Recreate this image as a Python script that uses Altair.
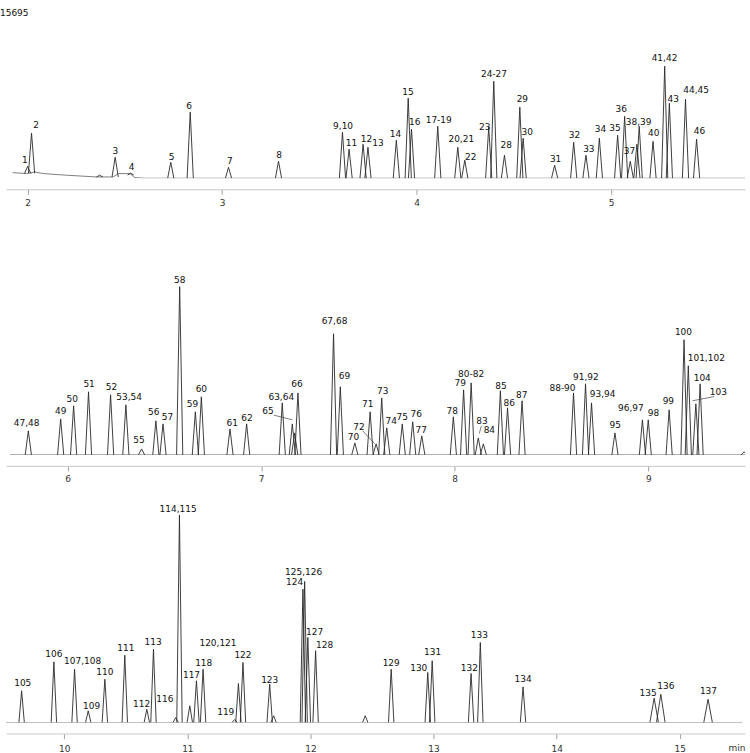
import altair as alt
import pandas as pd

FONT = "DejaVu Sans"
FULL_SCALE = 15695

# ---------------- Panel 1 (about 1.9 - 5.7 min) ----------------
p1_rt = [2.000, 2.020, 2.370, 2.450, 2.530, 2.736, 2.836, 3.033, 3.290, 3.619,
         3.653, 3.725, 3.750, 3.896, 3.957, 3.974, 4.109, 4.212, 4.248, 4.371,
         4.397, 4.452, 4.531, 4.548, 4.710, 4.808, 4.871, 4.940, 5.034, 5.070,
         5.099, 5.133, 5.145, 5.216, 5.276, 5.300, 5.383, 5.440]
p1_h = [1100, 4140, 280, 1930, 460, 1470, 6070, 1010, 1560, 4230,
        2670, 3130, 2850, 3500, 7360, 4510, 4780, 2850, 1660, 4690,
        8920, 2120, 6530, 3680, 1200, 3310, 2120, 3680, 3960, 5700,
        1560, 3130, 4780, 3400, 10300, 6900, 7270, 3590]
p1_base = [430, 460, 120, 120, 300] + [0] * 33
p1_drift_t = [1.923, 1.995, 2.037, 2.080, 2.200, 2.355, 2.440, 2.466, 2.526, 2.551, 2.600, 5.695]
p1_drift_v = [520, 430, 580, 430, 280, 120, 120, 430, 430, 60, 0, 0]
p1_lab = ["1", "2", "3", "4", "5", "6", "7", "8", "9,10", "11", "12", "13", "14", "15",
          "16", "17-19", "20,21", "22", "23", "24-27", "28", "29", "30", "31", "32",
          "33", "34", "35", "36", "37", "38,39", "40", "41,42", "43", "44,45", "46"]
p1_lab_t = [1.986, 2.043, 2.451, 2.534, 2.740, 2.830, 3.040, 3.293, 3.622, 3.665,
            3.742, 3.802, 3.891, 3.956, 3.990, 4.114, 4.230, 4.278, 4.350, 4.398,
            4.461, 4.544, 4.569, 4.715, 4.812, 4.886, 4.946, 5.020, 5.052, 5.095,
            5.142, 5.220, 5.275, 5.320, 5.438, 5.455]
p1_lab_v = [1660, 4880, 2460, 1040, 1960, 6650, 1590, 2180, 4810, 3280,
            3590, 3220, 4050, 7940, 5180, 5360, 3590, 1960, 4720, 9570,
            3040, 7270, 4260, 1810, 3960, 2730, 4510, 4660, 6410, 2510,
            5180, 4200, 11010, 7330, 8100, 4350]

# ---------------- Panel 2 (about 5.7 - 9.5 min) ----------------
p2_rt = [5.797, 5.964, 6.031, 6.108, 6.222, 6.301, 6.382, 6.456, 6.493, 6.579,
         6.660, 6.691, 6.839, 6.925, 7.109, 7.161, 7.173, 7.190, 7.374, 7.409,
         7.484, 7.563, 7.594, 7.623, 7.649, 7.729, 7.783, 7.830, 7.993, 8.046,
         8.085, 8.122, 8.148, 8.236, 8.273, 8.348, 8.614, 8.676, 8.707, 8.828,
         8.970, 9.000, 9.108, 9.185, 9.207, 9.246, 9.268, 9.495]
p2_h = [2210, 3310, 4510, 5800, 5520, 4600, 550, 3130, 2850, 15460,
        3960, 5340, 2390, 2850, 4780, 2850, 2020, 5700, 11130, 6260,
        1100, 3960, 1010, 5240, 2480, 2850, 3040, 1750, 3500, 5980,
        6620, 1560, 1010, 5890, 4320, 4970, 5700, 6530, 4780, 2020,
        3220, 3220, 4140, 10580, 8190, 4690, 6530, 280]
p2_base_t = [5.702, 9.509]
p2_base_v = [0, 0]
p2_lab = ["47,48", "49", "50", "51", "52", "53,54", "55", "56", "57", "58", "59", "60",
          "61", "62", "63,64", "65", "66", "67,68", "69", "70", "71", "72", "73", "74",
          "75", "76", "77", "78", "79", "80-82", "83", "84", "85", "86", "87", "88-90",
          "91,92", "93,94", "95", "96,97", "98", "99", "100", "101,102", "103", "104"]
p2_lab_t = [5.788, 5.964, 6.024, 6.111, 6.227, 6.318, 6.369, 6.445, 6.516, 6.579, 6.645, 6.691,
            6.851, 6.927, 7.104, 7.035, 7.185, 7.379, 7.431, 7.477, 7.551, 7.505, 7.628, 7.672,
            7.729, 7.801, 7.827, 7.987, 8.029, 8.085, 8.141, 8.179, 8.239, 8.282, 8.346, 8.557,
            8.678, 8.764, 8.829, 8.910, 9.027, 9.104, 9.182, 9.300, 9.362, 9.279]
p2_lab_v = [2920, 4050, 5180, 6500, 6260, 5360, 1380, 3960, 3520, 16100, 4660, 6100,
            2920, 3430, 5360, 4050, 6500, 12260, 7270, 1680, 4660, 2600, 5890, 3130,
            3520, 3740, 2300, 4050, 6600, 7480, 3130, 2270, 6350, 4760, 5520, 6140,
            7180, 5580, 2730, 4350, 3840, 4970, 11250, 8900, 5800, 7060]
# leader lines (from label to peak)
p2_lead_t = [7.066, 7.525, 8.127, 9.340]
p2_lead_v = [3650, 2210, 1960, 5360]
p2_lead_t2 = [7.162, 7.586, 8.138, 9.228]
p2_lead_v2 = [3220, 1040, 2670, 4970]

# ---------------- Panel 3 (about 9.5 - 15.5 min) ----------------
p3_rt = [9.654, 9.916, 10.084, 10.195, 10.330, 10.492, 10.671, 10.725, 10.906, 10.936,
         11.020, 11.074, 11.128, 11.385, 11.415, 11.452, 11.669, 11.701, 11.939, 11.953,
         11.979, 12.042, 12.445, 12.656, 12.953, 12.989, 13.305, 13.380, 13.727, 14.792,
         14.846, 15.230]
p3_h = [2920, 5580, 4900, 1080, 3980, 6190, 1220, 6740, 460, 19070,
        1540, 3840, 4900, 280, 3590, 5520, 3520, 620, 12260, 12970,
        7820, 6600, 620, 4900, 4600, 5680, 4510, 7360, 3280, 2240,
        2600, 2140]
p3_base_t = [9.511, 15.508]
p3_base_v = [0, 0]
p3_lab = ["105", "106", "107,108", "109", "110", "111", "112", "113", "116", "114,115",
          "117", "118", "120,121", "119", "122", "123", "124", "125,126", "127", "128",
          "129", "130", "131", "132", "133", "134", "135", "136", "137"]
p3_lab_t = [9.663, 9.916, 10.149, 10.222, 10.330, 10.501, 10.628, 10.722, 10.817, 10.925,
            11.034, 11.133, 11.249, 11.312, 11.452, 11.669, 11.871, 11.945, 12.034, 12.115,
            12.656, 12.880, 12.993, 13.291, 13.372, 13.727, 14.743, 14.887, 15.233]
p3_lab_v = [3620, 6280, 5610, 1540, 4600, 6810, 1680, 7360, 2140, 19620,
            4350, 5430, 7270, 1010, 6190, 3930, 12880, 13860, 8340, 7110,
            5460, 5000, 6500, 5000, 8070, 3980, 2760, 3380, 2920]

PX_PER_UNIT = 171 / FULL_SCALE  # same vertical scale in all three panels


def peaks_frame(rts, hs, bases, halfwidth):
    rows = []
    for i, (t, h, b) in enumerate(zip(rts, hs, bases)):
        w = halfwidth(t)
        rows.append({"pk": i, "o": 0, "t": t - w, "v": b})
        rows.append({"pk": i, "o": 1, "t": t, "v": h})
        rows.append({"pk": i, "o": 2, "t": t + w, "v": b})
    return pd.DataFrame(rows)


def panel(rts, hs, bases, halfwidth, base_t, base_v, labs, lab_t, lab_v, xdom, ticks, height,
          label_pad=4, leads=None, extra=None):
    ymax = height / PX_PER_UNIT
    xs = alt.Scale(domain=xdom, nice=False, zero=False)
    ys = alt.Scale(domain=[0, ymax], nice=False, zero=False)
    xaxis = alt.Axis(values=ticks, format="d", offset=11, tickSize=5, labelPadding=label_pad,
                     grid=False, domainColor="#c8c8c8", tickColor="#a0a0a0",
                     labelColor="#333333", labelFontSize=9, labelFont=FONT,
                     labelFlush=False, title=None)
    base = alt.Chart(pd.DataFrame({"t": base_t, "v": base_v})).mark_line(
        color="#707070", strokeWidth=0.9, clip=True
    ).encode(x=alt.X("t:Q", scale=xs, axis=xaxis), y=alt.Y("v:Q", scale=ys, axis=None))
    pk = alt.Chart(peaks_frame(rts, hs, bases, halfwidth)).mark_line(
        color="#2a2a2a", strokeWidth=0.9, clip=True
    ).encode(x="t:Q", y="v:Q", detail="pk:N", order="o:Q")
    txt = alt.Chart(pd.DataFrame({"t": lab_t, "v": lab_v, "label": labs})).mark_text(
        font=FONT, fontSize=9, color="#111111", align="center", baseline="middle"
    ).encode(x="t:Q", y="v:Q", text="label:N")
    layers = [base, pk, txt]
    if leads is not None:
        lt, lv, lt2, lv2 = leads
        layers.append(
            alt.Chart(pd.DataFrame({"t": lt, "v": lv, "t2": lt2, "v2": lv2})).mark_rule(
                color="#444444", strokeWidth=0.7
            ).encode(x="t:Q", y="v:Q", x2="t2:Q", y2="v2:Q")
        )
    if extra is not None:
        layers += extra
    return alt.layer(*layers).properties(width=740, height=height)


H1, H2, H3 = 171, 228, 219

top_label = alt.Chart(pd.DataFrame({"s": [str(FULL_SCALE)]})).mark_text(
    font=FONT, fontSize=9, color="#111111", align="left", baseline="middle"
).encode(x=alt.value(-6), y=alt.value(6), text="s:N")

min_label = alt.Chart(pd.DataFrame({"s": ["min"]})).mark_text(
    font=FONT, fontSize=9, color="#333333", align="center", baseline="middle"
).encode(x=alt.value(732), y=alt.value(H3 + 25), text="s:N")

c1 = panel(p1_rt, p1_h, p1_base, lambda t: 0.016, p1_drift_t, p1_drift_v,
           p1_lab, p1_lab_t, p1_lab_v, [1.8886, 5.689], [2, 3, 4, 5], H1,
           label_pad=4, extra=[top_label])
c2 = panel(p2_rt, p2_h, [0] * len(p2_rt), lambda t: 0.016, p2_base_t, p2_base_v,
           p2_lab, p2_lab_t, p2_lab_v, [5.6816, 9.5], [6, 7, 8, 9], H2,
           label_pad=4, leads=(p2_lead_t, p2_lead_v, p2_lead_t2, p2_lead_v2))
c3 = panel(p3_rt, p3_h, [0] * len(p3_rt), lambda t: 0.035 if t > 14.5 else 0.022,
           p3_base_t, p3_base_v, p3_lab, p3_lab_t, p3_lab_v, [9.527, 15.530],
           [10, 11, 12, 13, 14, 15], H3, label_pad=6, extra=[min_label])

chart = alt.vconcat(c1, c2, c3, spacing=20).properties(
    padding={"left": 0, "top": 7, "right": 4, "bottom": 0},
    background="white",
).configure(font=FONT).configure_view(stroke=None)

chart.save("out.html", embed_options={"renderer": "svg", "actions": False})
